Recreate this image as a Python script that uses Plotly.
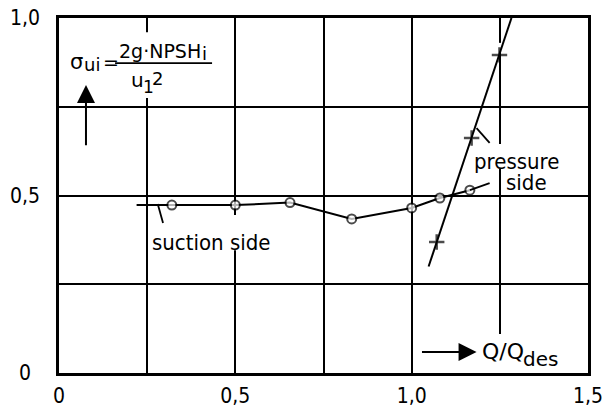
import plotly.graph_objects as go

# Inception cavitation coefficient vs. relative flow rate
suction_q = [0.22, 0.32, 0.50, 0.655, 0.83, 1.00, 1.08, 1.165]
suction_sigma = [0.473, 0.473, 0.473, 0.480, 0.434, 0.465, 0.493, 0.515]
suction_measured = [False, True, True, True, True, True, True, True]

pressure_q = [1.048, 1.071, 1.170, 1.249, 1.283]
pressure_sigma = [0.300, 0.369, 0.662, 0.896, 1.000]
pressure_measured = [False, True, True, True, False]

x_ticks = [0, 0.25, 0.5, 0.75, 1.0, 1.25, 1.5]
x_labels = ["0", "", "0,5", "", "1,0", "", "1,5"]
y_ticks = [0, 0.25, 0.5, 0.75, 1.0]
y_labels = ["0", "", "0,5", "", "1,0"]

FONT = "DejaVu Sans Condensed, DejaVu Sans, sans-serif"
WIDE = "DejaVu Sans, sans-serif"
INK = "black"

fig = go.Figure()

fig.add_trace(go.Scatter(
    x=suction_q, y=suction_sigma, mode="lines+markers",
    line=dict(color=INK, width=2),
    marker=dict(symbol="circle", size=[9 if m else 0 for m in suction_measured],
                color="white", line=dict(color=INK, width=2)),
    showlegend=False, hoverinfo="skip",
))
fig.add_trace(go.Scatter(
    x=pressure_q, y=pressure_sigma, mode="lines+markers",
    line=dict(color=INK, width=2),
    marker=dict(symbol="cross-thin", size=[11 if m else 0 for m in pressure_measured],
                color=INK, line=dict(color=INK, width=2.5)),
    showlegend=False, hoverinfo="skip",
))

shapes = []
# white masks that interrupt the grid behind the labels
for x0, x1, y0, y1 in [(0.20, 0.30, 0.775, 0.96), (0.45, 0.55, 0.346, 0.445),
                       (1.20, 1.30, 0.575, 0.645), (1.20, 1.30, 0.0, 0.11),
                       (1.22, 1.28, 0.905, 0.93)]:
    shapes.append(dict(type="rect", xref="x", yref="y", x0=x0, x1=x1, y0=y0, y1=y1,
                       fillcolor="white", line=dict(width=0), layer="between"))
# fraction bar of the formula
shapes.append(dict(type="line", xref="x", yref="y", x0=0.159, x1=0.434, y0=0.873, y1=0.873,
                   line=dict(color=INK, width=1.8)))
# leader lines for curve labels
shapes.append(dict(type="line", xref="x", yref="y", x0=0.280, x1=0.295, y0=0.476, y1=0.4225,
                   line=dict(color=INK, width=1.8)))
shapes.append(dict(type="line", xref="x", yref="y", x0=1.184, x1=1.221, y0=0.690, y1=0.648,
                   line=dict(color=INK, width=1.8)))
shapes.append(dict(type="line", xref="x", yref="y", x0=suction_q[-1], x1=1.221,
                   y0=suction_sigma[-1], y1=0.535, line=dict(color=INK, width=1.8)))

def txt(x, y, s, size, anchor="left", family=FONT):
    return dict(x=x, y=y, text=s, xanchor=anchor, yanchor="middle",
                font=dict(size=size, family=family))

annotations = [
    txt(0.431, 0.368, "suction side", 22, "center"),
    txt(1.296, 0.597, "pressure", 22, "center"),
    txt(1.327, 0.537, "side", 22, "center"),
    # sigma_ui = 2g*NPSH_i / u_1^2
    txt(0.0255, 0.876, "σ", 21, family=WIDE),
    txt(0.064, 0.869, "ui", 18, family=WIDE),
    txt(0.119, 0.876, "=", 19, family=WIDE),
    txt(0.1644, 0.907, "2g·NPSH", 19, family=WIDE),
    txt(0.400, 0.899, "i", 18, family=WIDE),
    txt(0.198, 0.826, "u", 20, family=WIDE),
    txt(0.2325, 0.806, "1", 17, family=WIDE),
    txt(0.258, 0.831, "2", 18, family=WIDE),
    # abscissa caption
    txt(1.194, 0.061, "Q/Q", 22, family=WIDE),
    txt(1.31, 0.040, "des", 20, family=WIDE),
    # axis direction arrows
    dict(x=0.0765, y=0.811, ax=0.0765, ay=0.637, axref="x", ayref="y", text="",
         showarrow=True, arrowhead=2, arrowsize=1.8, arrowwidth=2, arrowcolor=INK),
    dict(x=1.184, y=0.059, ax=1.025, ay=0.059, axref="x", ayref="y", text="",
         showarrow=True, arrowhead=2, arrowsize=1.8, arrowwidth=2, arrowcolor=INK),
]
# ordinate tick labels, centred in the left margin
for v, lab in zip(y_ticks, y_labels):
    if lab:
        annotations.append(dict(x=-0.064, xref="paper", y=v, yref="y", text=lab,
                                xanchor="center", yanchor="middle", font=dict(size=21)))

for a in annotations:
    a.setdefault("xref", "x")
    a.setdefault("yref", "y")
    a.setdefault("showarrow", False)
    f = a.get("font", {})
    a["font"] = dict(family=f.get("family", FONT), color=INK, size=f.get("size", 20))

axis_common = dict(
    showgrid=True, gridcolor=INK, gridwidth=1.6, zeroline=False,
    showline=True, linecolor=INK, linewidth=3, mirror=True,
    ticks="", ticklen=0, tickfont=dict(family=FONT, size=21, color=INK),
    fixedrange=True, automargin=False,
)

fig.update_layout(
    width=604, height=408,
    margin=dict(l=59, r=16, t=18, b=35),
    paper_bgcolor="white", plot_bgcolor="white",
    xaxis=dict(range=[0, 1.5], tickmode="array", tickvals=x_ticks, ticktext=x_labels,
               ticklabelstandoff=2, **axis_common),
    yaxis=dict(range=[0, 1.0], tickmode="array", tickvals=y_ticks, ticktext=y_labels,
               showticklabels=False, **axis_common),
    shapes=shapes, annotations=annotations,
    showlegend=False,
)

fig.write_html("out.html")
